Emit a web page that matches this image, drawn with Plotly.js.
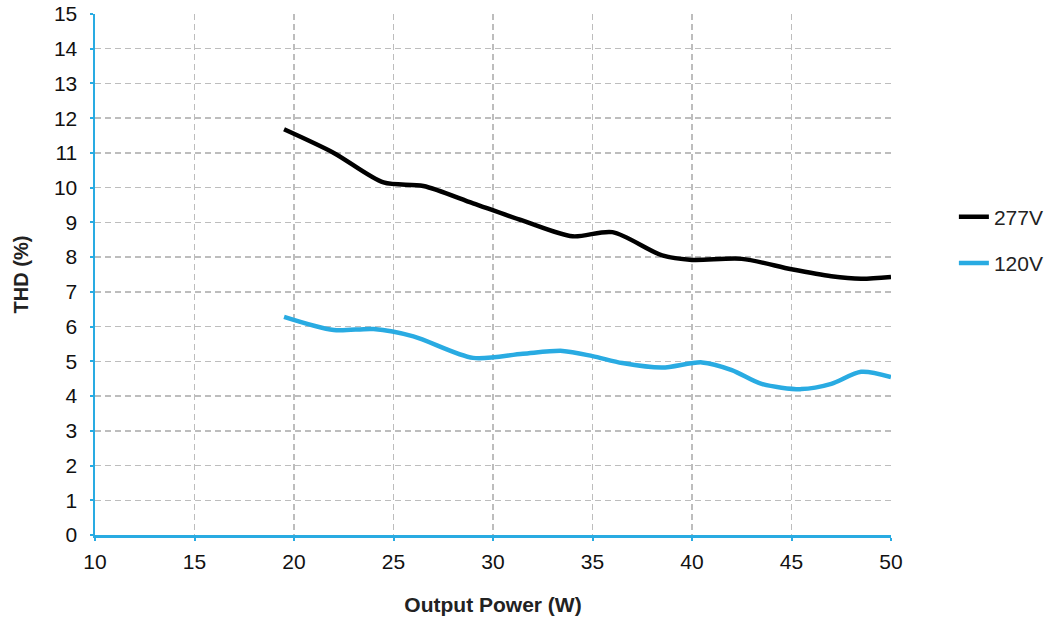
<!DOCTYPE html>
<html>
<head>
<meta charset="utf-8">
<script src="https://cdn.plot.ly/plotly-3.0.1.min.js"></script>
<style>html,body{margin:0;padding:0;background:#fff;}#chart{width:1058px;height:623px;}</style>
</head>
<body>
<div id="chart"></div>
<script>
const seriesNames = ["277V", "120V"];
const x277 = [19.5, 22, 24.5, 26.5, 29, 31.5, 34, 36, 38.5, 40, 42.5, 45, 47, 48.5, 50];
const y277 = [11.68, 11.0, 10.15, 10.05, 9.55, 9.05, 8.6, 8.72, 8.05, 7.92, 7.95, 7.65, 7.45, 7.38, 7.43];
const x120 = [19.5, 22, 24, 26, 29, 31.5, 33.5, 35, 36.5, 38.5, 40.5, 42, 43.5, 45.5, 47, 48.5, 50];
const y120 = [6.28, 5.9, 5.93, 5.72, 5.1, 5.22, 5.3, 5.15, 4.95, 4.82, 4.97, 4.75, 4.35, 4.2, 4.35, 4.7, 4.55];
const xTicks = [10, 15, 20, 25, 30, 35, 40, 45, 50];
const yTicks = [0,1,2,3,4,5,6,7,8,9,10,11,12,13,14,15];

const blue = "#29abe2";
const traces = [
  {x: x277, y: y277, name: seriesNames[0], mode: "lines", legendgroup: "a",
   line: {color: "#000000", width: 4.5, shape: "spline", smoothing: 0.8}},
  {x: x120, y: y120, name: seriesNames[1], mode: "lines", legendgroup: "b",
   line: {color: blue, width: 4.5, shape: "spline", smoothing: 0.8}}
];
const fam = "Liberation Sans, Arial, sans-serif";
const font = {family: fam, color: "#111", size: 21};
const layout = {
  width: 1058, height: 623,
  margin: {l: 95, r: 167, t: 14, b: 88, autoexpand: false},
  paper_bgcolor: "#fff", plot_bgcolor: "#fff",
  font: font,
  showlegend: true,
  legend: {x: 1.079, xanchor: "left", y: 0.566, yanchor: "middle",
           font: {family: fam, size: 21, color: "#222"},
           traceorder: "grouped", tracegroupgap: 16, itemwidth: 30,
           bgcolor: "rgba(0,0,0,0)"},
  xaxis: {range: [10, 50], tickvals: xTicks, ticktext: xTicks.map(String),
          showline: true, linecolor: blue, linewidth: 2.5,
          ticks: "outside", ticklen: 3, tickcolor: blue, tickwidth: 2,
          ticklabelstandoff: 3,
          showgrid: true, gridcolor: "#bdbdbd", gridwidth: 1.5, griddash: "6px,4px",
          zeroline: false, tickfont: font,
          title: {text: "<b>Output Power (W)</b>", font: {family: fam, size: 21, color: "#222"}, standoff: 26}},
  yaxis: {range: [0, 15], tickvals: yTicks, ticktext: yTicks.map(String),
          showline: true, linecolor: blue, linewidth: 2.5,
          ticks: "outside", ticklen: 3, tickcolor: blue, tickwidth: 2,
          ticklabelstandoff: 8,
          showgrid: true, gridcolor: "#bdbdbd", gridwidth: 1.5, griddash: "6px,4px",
          zeroline: false, tickfont: font,
          title: {text: "<b>THD (%)</b>", font: {family: fam, size: 20, color: "#222"}, standoff: 20}}
};
Plotly.newPlot("chart", traces, layout, {displayModeBar: false, staticPlot: true});
</script>
</body>
</html>
